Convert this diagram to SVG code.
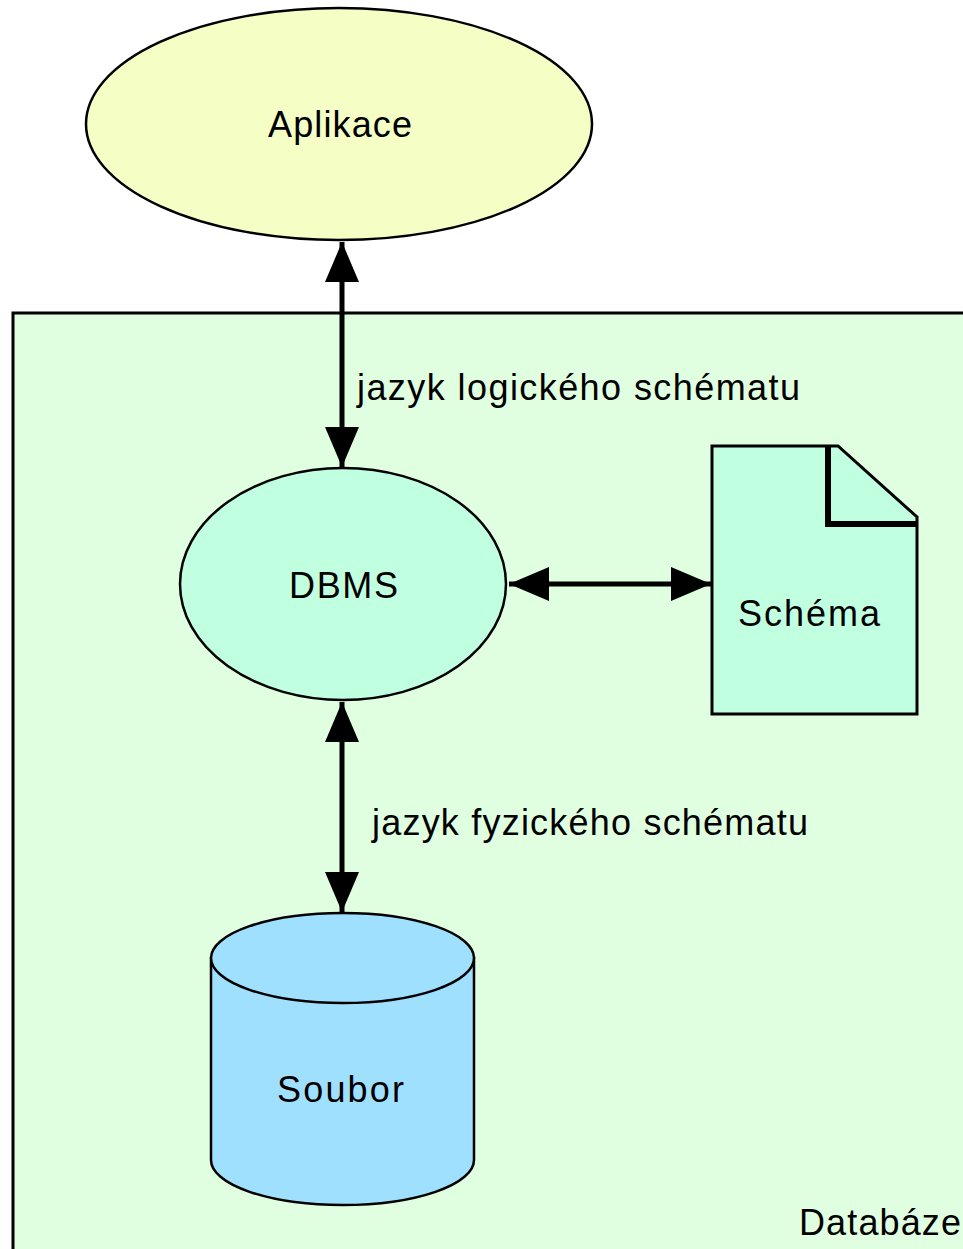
<svg xmlns="http://www.w3.org/2000/svg" width="963" height="1249" viewBox="0 0 963 1249">
<style>
.t{font-family:"Liberation Sans",Arial,sans-serif;font-size:36px;fill:#000}
.s{stroke:#000;stroke-width:2.5}
.c{stroke:#000;stroke-width:5;fill:none}
</style>
<defs>
<marker id="ah" markerUnits="userSpaceOnUse" markerWidth="42" markerHeight="36" refX="40" refY="17" orient="auto-start-reverse" viewBox="0 0 42 36">
<path d="M0,0 L40,17 L0,34 z" fill="#000"/>
</marker>
</defs>
<rect width="963" height="1249" fill="#fff"/>
<g id="databaze">
<rect x="13" y="313" width="970" height="960" fill="#E0FFE0" stroke="#000" stroke-width="3"/>
<text class="t" x="799" y="1235" textLength="162" lengthAdjust="spacing">Databáze</text>
</g>
<g id="aplikace">
<ellipse cx="339" cy="124" rx="253" ry="116" fill="#F5FFC5" class="s"/>
<text class="t" x="268" y="137" textLength="144" lengthAdjust="spacing">Aplikace</text>
</g>
<g id="dbms">
<ellipse cx="343" cy="584" rx="163" ry="116" fill="#C0FFE0" class="s"/>
<text class="t" x="289" y="598" textLength="109" lengthAdjust="spacing">DBMS</text>
</g>
<g id="schema">
<path d="M712,446 L838,446 L917,517 L917,714 L712,714 Z" fill="#C0FFE0" stroke="#000" stroke-width="3"/>
<path d="M828,446 L828,524 L917,524" fill="none" stroke="#000" stroke-width="6"/>
<text class="t" x="738" y="626" textLength="142" lengthAdjust="spacing">Schéma</text>
</g>
<g id="soubor">
<path d="M211,958 L211,1160 A131.5,45 0 0 0 474,1160 L474,958 Z" fill="#A0E0FF" class="s"/>
<ellipse cx="342.5" cy="958" rx="131.5" ry="45" fill="#A0E0FF" class="s"/>
<text class="t" x="277" y="1102" textLength="127" lengthAdjust="spacing">Soubor</text>
</g>
<g id="connectors">
<line x1="342" y1="242" x2="342" y2="467" class="c" marker-start="url(#ah)" marker-end="url(#ah)"/>
<line x1="509" y1="584" x2="711" y2="584" class="c" marker-start="url(#ah)" marker-end="url(#ah)"/>
<line x1="342" y1="702" x2="342" y2="912" class="c" marker-start="url(#ah)" marker-end="url(#ah)"/>
<text class="t" x="357" y="400" textLength="443" lengthAdjust="spacing">jazyk logického schématu</text>
<text class="t" x="372" y="835" textLength="436" lengthAdjust="spacing">jazyk fyzického schématu</text>
</g>
</svg>
